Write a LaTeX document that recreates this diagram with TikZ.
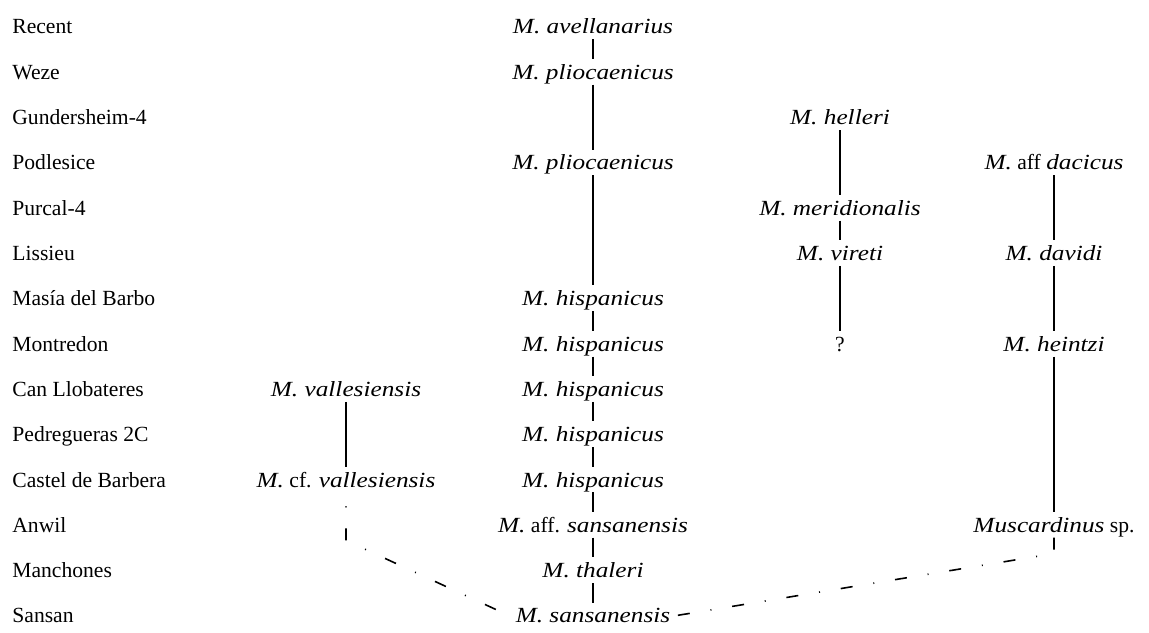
\documentclass[tikz,border=0pt]{standalone}
\usepackage{fontspec}
\setmainfont{Liberation Serif}[ItalicFeatures={FakeStretch=1.17}]

\begin{document}
\begin{tikzpicture}[x=0.5pt, y=-22.65pt,
  every node/.style={font=\fontsize{10.8}{13}\selectfont, inner ysep=0pt,
    text height=10pt, text depth=2.5pt, anchor=base},
  link/.style={line width=0.8pt},
  dashdot/.style={line width=0.8pt, dash pattern=on 6pt off 10.5pt on 0.5pt off 10.5pt}]
\def\xval{346} \def\xmain{593} \def\xhel{840} \def\xmus{1054}
\useasboundingbox (0,-0.7506) rectangle (1149,13.2009);

% localities, youngest on top
\foreach \loc [count=\i from 0] in {Recent, Weze, Gundersheim-4, Podlesice, Purcal-4,
    Lissieu, Masía del Barbo, Montredon, Can Llobateres, Pedregueras 2C,
    Castel de Barbera, Anwil, Manchones, Sansan}
  \node[anchor=base west, inner xsep=0pt] (loc\i) at (12,\i) {\loc};

% main lineage
\node (avel)    at (\xmain,0)  {\textit{M. avellanarius}};
\node (plioA)   at (\xmain,1)  {\textit{M. pliocaenicus}};
\node (plioB)   at (\xmain,3)  {\textit{M. pliocaenicus}};
\node (hispA)   at (\xmain,6)  {\textit{M. hispanicus}};
\node (hispB)   at (\xmain,7)  {\textit{M. hispanicus}};
\node (hispC)   at (\xmain,8)  {\textit{M. hispanicus}};
\node (hispD)   at (\xmain,9)  {\textit{M. hispanicus}};
\node (hispE)   at (\xmain,10) {\textit{M. hispanicus}};
\node (affsans) at (\xmain,11) {\textit{M.} aff. \textit{sansanensis}};
\node (thal)    at (\xmain,12) {\textit{M. thaleri}};
\node (sans)    at (\xmain,13) {\textit{M. sansanensis}};

% helleri branch
\node (hell)  at (\xhel,2) {\textit{M. helleri}};
\node (merid) at (\xhel,4) {\textit{M. meridionalis}};
\node (vir)   at (\xhel,5) {\textit{M. vireti}};
\node (unk)   at (\xhel,7) {?};

% Muscardinus branch
\node (dac)  at (\xmus,3)  {\textit{M.} aff \textit{dacicus}};
\node (dav)  at (\xmus,5)  {\textit{M. davidi}};
\node (hein) at (\xmus,7)  {\textit{M. heintzi}};
\node (musc) at (\xmus,11) {\textit{Muscardinus} sp.};

% vallesiensis branch
\node (vall)   at (\xval,8)  {\textit{M. vallesiensis}};
\node (cfvall) at (\xval,10) {\textit{M.} cf. \textit{vallesiensis}};

\draw[link] (avel) -- (plioA) -- (plioB) -- (hispA) -- (hispB) -- (hispC) -- (hispD)
  -- (hispE) -- (affsans) -- (thal) -- (sans);
\draw[link] (hell) -- (merid) -- (vir) -- (unk);
\draw[link] (dac) -- (dav) -- (hein) -- (musc);
\draw[link] (vall) -- (cfvall);

% uncertain origins
\draw[dashdot, dash phase=9.5pt] (cfvall.south) -- ++(0,1.06) -- (sans.west);
\draw[dashdot] (musc.south) -- ++(0,0.35) -- (sans.east);
\end{tikzpicture}
\end{document}
